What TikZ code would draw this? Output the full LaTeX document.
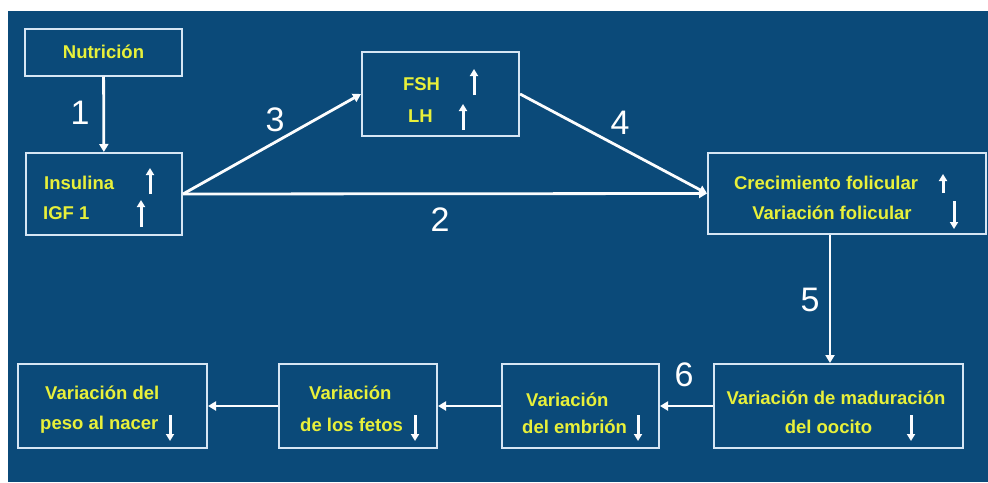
\documentclass[tikz,border=0pt]{standalone}
\usepackage{fontspec}
\setmainfont{Liberation Sans}
\usetikzlibrary{arrows.meta}
\definecolor{bg}{HTML}{0B4A79}
\definecolor{edge}{HTML}{D6E6F4}
\definecolor{txt}{HTML}{E8F03A}
\tikzset{
  box/.style={draw=edge, line width=2pt},
  lab/.style={text=txt, font=\bfseries\fontsize{18.5}{20}\selectfont, inner sep=0pt},
  num/.style={text=white, font=\fontsize{34}{36}\selectfont, inner sep=0pt},
  conn/.style={draw=white!92!edge, line width=2.8pt, -{Triangle[length=8pt,width=9pt]}},
  updn/.style={draw=white!90!edge, line width=3pt, -{Triangle[length=7pt,width=8pt]}}
}
\begin{document}
\begin{tikzpicture}[x=1pt,y=-1pt]
\useasboundingbox (0,0) rectangle (988,482);
\fill[white] (0,0) rectangle (988,482);
\fill[bg] (8,11) rectangle (988,482);
% boxes
\node[box, minimum width=157pt, minimum height=47pt] (nut) at (103.5,52) {};
\node[box, minimum width=156pt, minimum height=82pt] (ins) at (104,194) {};
\node[box, minimum width=157pt, minimum height=84pt] (fsh) at (440.5,94) {};
\node[box, minimum width=278pt, minimum height=81pt] (cre) at (847,193.5) {};
\node[box, minimum width=189pt, minimum height=84pt] (pes) at (112.5,406) {};
\node[box, minimum width=158pt, minimum height=84pt] (fet) at (358,406) {};
\node[box, minimum width=157pt, minimum height=84pt] (emb) at (580.5,406) {};
\node[box, minimum width=249pt, minimum height=84pt] (mad) at (838.5,406) {};
% texts
\node[lab] (tnut) at (103.5,52) {Nutrición};
\node[lab, anchor=west] (tins) at (44,183) {Insulina};
\node[lab, anchor=west] (tigf) at (43,213) {IGF 1};
\node[lab] (tfsh) at (421.5,84) {FSH};
\node[lab] (tlh) at (420.5,116) {LH};
\node[lab] (tcre) at (826,183) {Crecimiento folicular};
\node[lab] (tvar) at (832,213) {Variación folicular};
\node[lab, anchor=west] (tpes1) at (45,393) {Variación del};
\node[lab, anchor=west] (tpes2) at (40,425) {peso al nacer};
\node[lab, anchor=west] (tfet1) at (309,393) {Variación};
\node[lab, anchor=west] (tfet2) at (300,425) {de los fetos};
\node[lab, anchor=west] (temb1) at (526,400) {Variación};
\node[lab, anchor=west] (temb2) at (522,427) {del embrión};
\node[lab] (tmad1) at (836,398) {Variación de maduración};
\node[lab] (tmad2) at (828.5,427) {del oocito};
% small up/down arrows
\coordinate (a1s) at (150,194); \coordinate (a1e) at (150,168);
\coordinate (a2s) at (141,227); \coordinate (a2e) at (141,200);
\coordinate (a3s) at (474,95);  \coordinate (a3e) at (474,69);
\coordinate (a4s) at (463,130); \coordinate (a4e) at (463,104);
\coordinate (a5s) at (943,193); \coordinate (a5e) at (943,174);
\coordinate (a6s) at (954,201); \coordinate (a6e) at (954,229);
\coordinate (a7s) at (170,415); \coordinate (a7e) at (170,441);
\coordinate (a8s) at (415,415); \coordinate (a8e) at (415,441);
\coordinate (a9s) at (638,415); \coordinate (a9e) at (638,441);
\coordinate (a10s) at (911,415); \coordinate (a10e) at (911,441);
\foreach \i in {1,...,10} \draw[updn] (a\i s) -- (a\i e);
% connectors
\draw[conn] (nut) -- (ins);
\draw[conn] (ins.east) -- (fsh.west);
\draw[conn] (ins.east) -- (cre.west);
\draw[conn] (fsh.east) -- (cre.west);
\draw[conn] (cre.south -| 830,0) -- (mad.north -| 830,0);
\draw[conn] (mad.west) -- (emb.east);
\draw[conn] (emb.west) -- (fet.east);
\draw[conn] (fet.west) -- (pes.east);
% numbers
\node[num] (n1) at (80,113) {1};
\node[num] (n2) at (440,220) {2};
\node[num] (n3) at (275,120) {3};
\node[num] (n4) at (620,123) {4};
\node[num] (n5) at (810,300) {5};
\node[num] (n6) at (684,375) {6};
\end{tikzpicture}
\end{document}
